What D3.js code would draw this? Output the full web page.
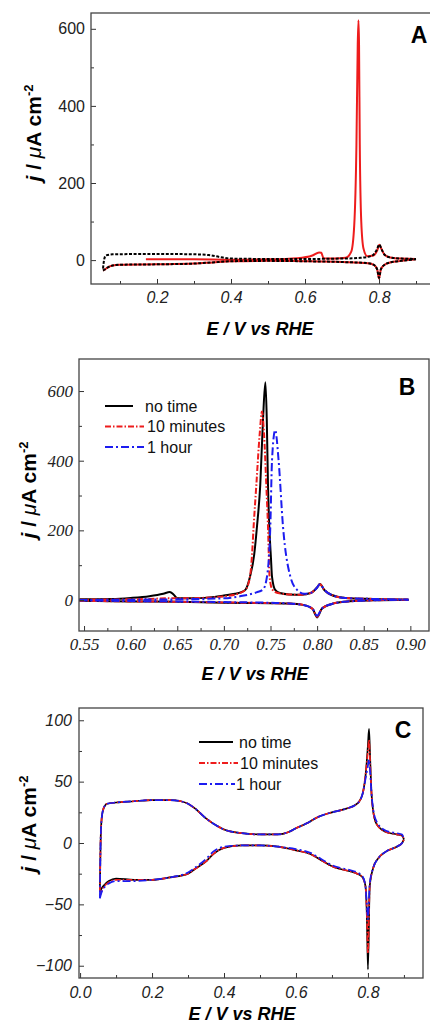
<!DOCTYPE html>
<html>
<head>
<meta charset="utf-8">
<script src="https://cdn.jsdelivr.net/npm/d3@7"></script>
<style>
  body { margin: 0; background: #fff; }
  svg { display: block; }
</style>
</head>
<body>
<svg id="fig" width="430" height="1026"></svg>
<script>
// ---- Panel A: blank CV (dotted) and CO stripping (red) ----
const aBlankUp = [[0.054,-22],[0.058,5],[0.062,12],[0.08,15],[0.2,16],[0.3,15],[0.34,13],[0.37,8],[0.4,4],[0.5,3],[0.6,3],[0.7,4],[0.75,6],[0.78,11],[0.793,25],[0.801,40],[0.806,30],[0.815,14],[0.83,7],[0.86,4],[0.9,3]];
const aBlankDown = [[0.9,2],[0.86,-2],[0.83,-6],[0.815,-12],[0.805,-24],[0.8,-46],[0.795,-24],[0.785,-12],[0.77,-8],[0.7,-5],[0.6,-3],[0.5,-2],[0.4,-3],[0.35,-6],[0.3,-9],[0.2,-11],[0.1,-12],[0.08,-14],[0.065,-20],[0.058,-25],[0.054,-27]];
const aCOUp = [[0.17,2],[0.3,2],[0.4,1],[0.5,2],[0.58,5],[0.62,12],[0.638,20],[0.644,19],[0.65,5],[0.68,4],[0.71,6],[0.725,22],[0.733,90],[0.739,300],[0.7425,560],[0.7445,622],[0.746,560],[0.748,300],[0.752,100],[0.758,30],[0.768,10],[0.785,12],[0.795,25],[0.801,40],[0.806,30],[0.815,14],[0.83,7],[0.86,4],[0.9,3]];
const aCODown = [[0.9,2],[0.86,-2],[0.83,-6],[0.815,-12],[0.805,-24],[0.8,-48],[0.795,-24],[0.785,-12],[0.77,-8],[0.7,-5],[0.6,-3],[0.5,-2],[0.4,-3],[0.35,-6],[0.3,-9],[0.2,-11],[0.1,-12],[0.08,-14],[0.065,-20],[0.058,-25],[0.054,-27]];

// ---- Panel B: CO stripping after holding times ----
const bNoTimeUp = [[0.545,2],[0.58,3],[0.6,6],[0.62,11],[0.635,18],[0.642,23],[0.646,16],[0.65,5],[0.67,5],[0.69,9],[0.7,13],[0.712,18],[0.718,22],[0.723,29],[0.728,67],[0.7325,130],[0.7355,211],[0.739,330],[0.742,520],[0.7445,625],[0.746,520],[0.7473,330],[0.7487,211],[0.7505,120],[0.7516,67],[0.755,29],[0.76,20],[0.77,16],[0.783,15],[0.793,20],[0.8,36],[0.803,46],[0.808,28],[0.815,15],[0.83,6],[0.86,3],[0.898,1]];
const bNoTimeDown = [[0.898,1],[0.86,-1],[0.83,-5],[0.815,-12],[0.805,-25],[0.8,-50],[0.795,-25],[0.785,-14],[0.77,-10],[0.75,-9],[0.7,-8],[0.65,-5],[0.6,-4],[0.545,-2]];
const b10MinUp = [[0.545,1],[0.6,2],[0.62,3],[0.64,5],[0.66,5],[0.69,8],[0.705,12],[0.715,18],[0.723,29],[0.728,67],[0.7302,130],[0.7319,211],[0.7348,330],[0.7385,480],[0.7408,541],[0.743,480],[0.7455,330],[0.7473,211],[0.749,67],[0.752,30],[0.758,20],[0.77,16],[0.783,15],[0.793,20],[0.8,36],[0.803,45],[0.808,28],[0.815,15],[0.83,6],[0.86,3],[0.898,1]];
const b10MinDown = [[0.898,1],[0.86,-1],[0.83,-5],[0.815,-12],[0.805,-25],[0.8,-48],[0.795,-25],[0.785,-14],[0.77,-10],[0.75,-9],[0.7,-7],[0.65,-5],[0.6,-4],[0.545,-2]];
const b1HourUp = [[0.545,0],[0.6,1],[0.65,2],[0.7,5],[0.72,12],[0.735,22],[0.742,30],[0.7462,67],[0.7498,211],[0.7516,400],[0.755,488],[0.7587,400],[0.7634,211],[0.7713,67],[0.7785,29],[0.786,18],[0.795,22],[0.8,36],[0.803,45],[0.808,28],[0.815,15],[0.83,6],[0.86,3],[0.898,1]];
const b1HourDown = [[0.898,1],[0.86,-1],[0.83,-5],[0.815,-12],[0.805,-25],[0.8,-45],[0.795,-25],[0.785,-14],[0.77,-10],[0.75,-8],[0.7,-6],[0.65,-4],[0.6,-3],[0.545,-1]];

// ---- Panel C: blank CVs after holding times ----
const cNoTimeUp = [[0.055,-38],[0.057,0],[0.06,20],[0.065,28],[0.075,32],[0.1,33],[0.15,34],[0.2,35],[0.25,35],[0.28,34],[0.3,32],[0.32,28],[0.35,20],[0.38,14],[0.4,11],[0.45,8],[0.5,7],[0.55,7],[0.58,9],[0.6,12],[0.63,16],[0.66,21],[0.7,25],[0.74,28],[0.77,32],[0.785,40],[0.795,60],[0.8,80],[0.803,93],[0.806,70],[0.81,40],[0.815,25],[0.825,15],[0.85,9],[0.88,7],[0.895,6],[0.9,3]];
const cNoTimeDown = [[0.9,3],[0.895,0],[0.88,-3],[0.85,-7],[0.83,-12],[0.815,-20],[0.805,-35],[0.8,-103],[0.797,-60],[0.793,-35],[0.785,-28],[0.77,-25],[0.75,-23],[0.72,-21],[0.7,-19],[0.67,-14],[0.64,-9],[0.6,-6],[0.55,-3],[0.5,-2],[0.45,-2],[0.4,-4],[0.37,-9],[0.35,-15],[0.32,-21],[0.3,-25],[0.25,-28],[0.2,-30],[0.15,-30],[0.1,-29],[0.08,-31],[0.068,-34],[0.06,-37],[0.055,-40]];
const c10MinUp = [[0.055,-40],[0.057,0],[0.06,20],[0.065,28],[0.075,32],[0.1,33],[0.15,34],[0.2,35],[0.25,35],[0.28,34],[0.3,32],[0.32,28],[0.35,20],[0.38,14],[0.4,11],[0.45,8],[0.5,7],[0.55,7],[0.58,9],[0.6,12],[0.63,16],[0.66,21],[0.7,25],[0.74,28],[0.77,32],[0.785,40],[0.795,60],[0.8,75],[0.803,84],[0.806,66],[0.81,40],[0.815,25],[0.825,15],[0.85,9],[0.88,7],[0.895,6],[0.9,3]];
const c10MinDown = [[0.9,3],[0.895,0],[0.88,-3],[0.85,-7],[0.83,-12],[0.815,-20],[0.805,-35],[0.8,-90],[0.797,-58],[0.793,-35],[0.785,-28],[0.77,-25],[0.75,-23],[0.72,-21],[0.7,-19],[0.67,-14],[0.64,-9],[0.6,-6],[0.55,-3],[0.5,-2],[0.45,-2],[0.4,-4],[0.37,-9],[0.35,-15],[0.32,-21],[0.3,-25],[0.25,-28],[0.2,-30],[0.15,-30],[0.1,-30],[0.08,-32],[0.068,-35],[0.06,-39],[0.055,-43]];
const c1HourUp = [[0.055,-45],[0.057,0],[0.06,20],[0.065,28],[0.075,32],[0.1,33],[0.15,34],[0.2,35],[0.25,35],[0.28,34],[0.3,32],[0.32,28],[0.35,20],[0.38,14],[0.4,11],[0.45,8],[0.5,7],[0.55,7],[0.58,9],[0.6,12],[0.63,16],[0.66,21],[0.7,25],[0.74,28],[0.77,32],[0.785,40],[0.795,55],[0.8,63],[0.803,68],[0.806,58],[0.81,40],[0.815,27],[0.825,17],[0.85,10],[0.88,8],[0.895,7],[0.9,3]];
const c1HourDown = [[0.9,3],[0.895,0],[0.88,-3],[0.85,-7],[0.83,-12],[0.815,-20],[0.805,-33],[0.8,-62],[0.797,-50],[0.793,-35],[0.785,-27],[0.77,-24],[0.75,-22],[0.72,-20],[0.7,-18],[0.67,-13],[0.64,-8],[0.6,-5],[0.55,-3],[0.5,-2],[0.45,-2],[0.4,-3],[0.37,-7],[0.35,-13],[0.32,-20],[0.3,-24],[0.25,-28],[0.2,-30],[0.15,-31],[0.1,-31],[0.08,-33],[0.068,-36],[0.06,-40],[0.055,-45]];

// ---- ticks and legend labels ----
const aXTicks = [0.2, 0.4, 0.6, 0.8];
const aXMinor = [0.1, 0.3, 0.5, 0.7, 0.9];
const aYTicks = [0, 200, 400, 600];
const aYMinor = [100, 300, 500];
const bXTicks = [0.55, 0.60, 0.65, 0.70, 0.75, 0.80, 0.85, 0.90];
const bXMinor = [0.575, 0.625, 0.675, 0.725, 0.775, 0.825, 0.875];
const bYTicks = [0, 200, 400, 600];
const bYMinor = [100, 300, 500];
const cXTicks = [0.0, 0.2, 0.4, 0.6, 0.8];
const cXMinor = [0.1, 0.3, 0.5, 0.7, 0.9];
const cYTicks = [-100, -50, 0, 50, 100];
const cYMinor = [-75, -25, 25, 75];
const seriesNames = ["no time", "10 minutes", "1 hour"];

const SANS = "'Liberation Sans', Arial, sans-serif";
const SERIF = "'Liberation Serif', 'Times New Roman', serif";
const RED = "#ee1c1c", BLUE = "#1c1cf0", BLACK = "#000";

const styles = {
  solid:   { color: BLACK, dash: null },
  dotted:  { color: BLACK, dash: "3,1.6" },
  red:     { color: RED, dash: null },
  redDD:   { color: RED, dash: "6,2,1.5,2" },
  blueDD:  { color: BLUE, dash: "8,3,2,3" }
};

const svg = d3.select("#fig");

function drawPanel(p, idx) {
  const x = d3.scaleLinear().domain(p.xDomain).range([p.left, p.right]);
  const y = d3.scaleLinear().domain(p.yDomain).range([p.bottom, p.top]);
  const g = svg.append("g");

  g.append("clipPath").attr("id", "clip" + idx)
    .append("rect")
    .attr("x", p.left).attr("y", p.top)
    .attr("width", p.right - p.left).attr("height", p.bottom - p.top);

  const line = d3.line()
    .x(d => x(d[0]))
    .y(d => y(d[1]))
    .curve(d3.curveMonotoneX);

  const plot = g.append("g").attr("clip-path", `url(#clip${idx})`);
  p.series.forEach(s => {
    const st = styles[s.style];
    s.branches.forEach(b => {
      const pts = b.slice().sort((a, c) => a[0] - c[0]);
      plot.append("path")
        .attr("d", line(pts))
        .attr("fill", "none")
        .attr("stroke", st.color)
        .attr("stroke-width", s.width || 1.8)
        .attr("stroke-dasharray", st.dash)
        .attr("stroke-linejoin", "round");
    });
  });

  // axes (ticks point inward)
  const xAxis = g.append("g").attr("transform", `translate(0,${p.bottom})`)
    .call(d3.axisBottom(x).tickValues(p.xTicks).tickSize(-5).tickPadding(p.xPad).tickFormat(p.xFmt));
  g.append("g").attr("transform", `translate(0,${p.bottom})`)
    .call(d3.axisBottom(x).tickValues(p.xMinor).tickSize(-3).tickFormat(""));
  const yAxis = g.append("g").attr("transform", `translate(${p.left},0)`)
    .call(d3.axisLeft(y).tickValues(p.yTicks).tickSize(-5).tickPadding(p.yPad).tickFormat(d3.format("d")));
  g.append("g").attr("transform", `translate(${p.left},0)`)
    .call(d3.axisLeft(y).tickValues(p.yMinor).tickSize(-3).tickFormat(""));

  g.selectAll(".domain").remove();
  g.selectAll(".tick line").attr("stroke", "#333").attr("stroke-width", 1);
  xAxis.selectAll("text")
    .attr("font-family", p.tickFont).attr("font-size", p.tickSize)
    .attr("font-style", "italic").attr("fill", "#222");
  yAxis.selectAll("text")
    .attr("font-family", p.tickFont).attr("font-size", p.tickSize)
    .attr("font-style", p.yItalic ? "italic" : "normal").attr("fill", "#222");

  // frame
  g.append("rect")
    .attr("x", p.left).attr("y", p.top)
    .attr("width", p.right - p.left).attr("height", p.bottom - p.top)
    .attr("fill", "none").attr("stroke", "#444").attr("stroke-width", 1.3);

  // panel letter
  g.append("text")
    .attr("x", p.letterPos[0]).attr("y", p.letterPos[1])
    .attr("text-anchor", "middle").attr("dominant-baseline", "central")
    .attr("font-family", SANS).attr("font-weight", "bold").attr("font-size", 23)
    .text(p.letter);

  // x label
  g.append("text")
    .attr("x", p.xLabelPos[0]).attr("y", p.xLabelPos[1])
    .attr("text-anchor", "middle")
    .attr("font-family", SANS).attr("font-weight", "bold").attr("font-style", "italic")
    .attr("font-size", 18)
    .text("E / V vs RHE");

  // y label
  const yl = g.append("text")
    .attr("transform", `translate(${p.yLabelPos[0]},${p.yLabelPos[1]}) rotate(-90)`)
    .attr("text-anchor", "middle")
    .attr("font-family", SANS).attr("font-weight", "bold").attr("font-size", 21);
  yl.append("tspan").attr("font-style", "italic").text("j");
  yl.append("tspan").text(" / ");
  yl.append("tspan").attr("font-style", "italic").attr("font-weight", "normal").text("\u03bc");
  yl.append("tspan").text("A cm");
  yl.append("tspan").attr("font-size", 13).attr("dy", "-0.6em").text("-2");

  // legend
  if (p.legend) {
    const L = p.legend;
    p.series.forEach((s, i) => {
      const st = styles[s.style];
      const ly = L.y + i * L.step;
      g.append("line")
        .attr("x1", L.x1).attr("x2", L.x2[i]).attr("y1", ly).attr("y2", ly)
        .attr("stroke", st.color).attr("stroke-width", 2)
        .attr("stroke-dasharray", st.dash);
      g.append("text")
        .attr("x", L.tx[i]).attr("y", ly)
        .attr("dominant-baseline", "central")
        .attr("font-family", SANS).attr("font-size", 16).attr("fill", "#111")
        .text(seriesNames[i]);
    });
  }
}

const panels = [
  {
    letter: "A", letterPos: [419, 35],
    left: 91, right: 436, top: 13, bottom: 284,
    xDomain: [0.0216, 0.954], yDomain: [-62, 641],
    xTicks: aXTicks, xMinor: aXMinor, yTicks: aYTicks, yMinor: aYMinor,
    xFmt: d3.format(".1f"), xPad: 8, yPad: 6,
    tickFont: SANS, tickSize: 16, yItalic: false,
    xLabelPos: [260, 335], yLabelPos: [41, 133],
    series: [
      { style: "red", branches: [aCOUp, aCODown], width: 2 },
      { style: "dotted", branches: [aBlankUp, aBlankDown], width: 2 }
    ]
  },
  {
    letter: "B", letterPos: [407, 387],
    left: 79, right: 429, top: 359, bottom: 631,
    xDomain: [0.5446, 0.92], yDomain: [-89, 692],
    xTicks: bXTicks, xMinor: bXMinor, yTicks: bYTicks, yMinor: bYMinor,
    xFmt: d3.format(".2f"), xPad: 7, yPad: 6,
    tickFont: SERIF, tickSize: 17, yItalic: true,
    xLabelPos: [255, 680], yLabelPos: [36, 490],
    legend: { x1: 105, x2: [133, 144, 144], tx: [145, 147, 147], y: 406, step: 20.5 },
    series: [
      { style: "solid", branches: [bNoTimeUp, bNoTimeDown], width: 2 },
      { style: "redDD", branches: [b10MinUp, b10MinDown], width: 2 },
      { style: "blueDD", branches: [b1HourUp, b1HourDown], width: 2 }
    ]
  },
  {
    letter: "C", letterPos: [403, 730],
    left: 79, right: 423, top: 708, bottom: 978,
    xDomain: [-0.003, 0.953], yDomain: [-110, 110],
    xTicks: cXTicks, xMinor: cXMinor, yTicks: cYTicks, yMinor: cYMinor,
    xFmt: d3.format(".1f"), xPad: 9, yPad: 7,
    tickFont: SANS, tickSize: 16, yItalic: true,
    xLabelPos: [242, 1020], yLabelPos: [36, 824],
    legend: { x1: 199, x2: [233, 238, 235], tx: [239, 240, 236], y: 742, step: 21 },
    series: [
      { style: "solid", branches: [cNoTimeUp, cNoTimeDown], width: 1.7 },
      { style: "redDD", branches: [c10MinUp, c10MinDown], width: 1.7 },
      { style: "blueDD", branches: [c1HourUp, c1HourDown], width: 1.7 }
    ]
  }
];

panels.forEach(drawPanel);
</script>
</body>
</html>
